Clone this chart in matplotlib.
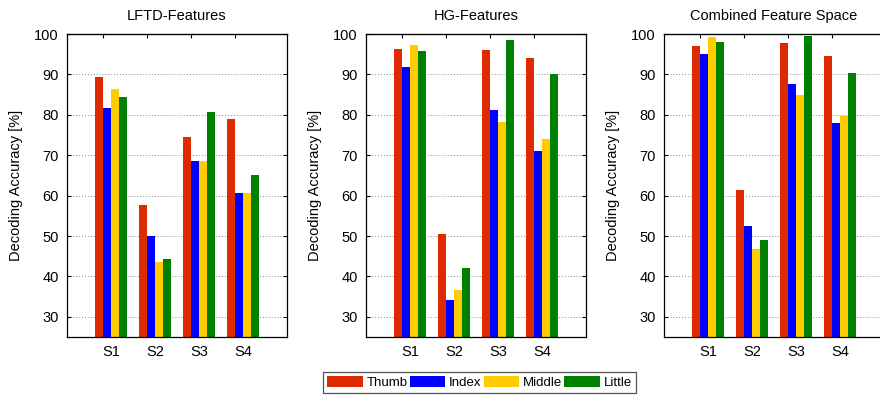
import numpy as np
import matplotlib.pyplot as plt

plt.rcParams["font.family"] = ["Liberation Sans", "DejaVu Sans"]

subjects = ['S1', 'S2', 'S3', 'S4']
fingers = ['Thumb', 'Index', 'Middle', 'Little']
colors = ['#dd2a00', '#0000ff', '#ffcc00', '#008000']
titles = ['LFTD-Features', 'HG-Features', 'Combined Feature Space']

# rows = subjects, columns = fingers
lftd = [[89.3, 81.6, 86.4, 84.3],
        [57.6, 50.1, 43.5, 44.3],
        [74.6, 68.6, 68.5, 80.6],
        [78.9, 60.7, 60.7, 65.2]]
hg = [[96.4, 91.9, 97.3, 95.7],
      [50.5, 34.1, 36.7, 42.0],
      [96.0, 81.3, 78.1, 98.5],
      [94.0, 71.0, 74.0, 90.1]]
combined = [[97.1, 95.0, 99.2, 97.9],
            [61.4, 52.5, 46.7, 49.1],
            [97.8, 87.6, 85.0, 99.5],
            [94.5, 77.9, 79.8, 90.3]]

fig = plt.figure(figsize=(8.8, 4.0), dpi=100)
lefts = [67 / 880, 366 / 880, 664 / 880]
x = np.arange(1, len(subjects) + 1)
w = 0.18

for k, data in enumerate([lftd, hg, combined]):
    ax = fig.add_axes([lefts[k], 63 / 400, 220 / 880, 303 / 400])
    vals = np.array(data)
    for j, name in enumerate(fingers):
        ax.bar(x + (j - 1.5) * w, vals[:, j], w, color=colors[j],
               label=name, zorder=2, linewidth=0)
    ax.set_xlim(0, 5)
    ax.set_ylim(25, 100)
    ax.set_yticks(range(30, 101, 10))
    ax.set_xticks(x)
    ax.set_xticklabels(subjects, fontsize=10.5)
    ax.tick_params(axis='y', labelsize=10.5, direction='in', length=3,
                   right=True, pad=6, width=0.8)
    ax.tick_params(axis='x', length=0, pad=6)
    top = ax.secondary_xaxis('top')
    top.set_xticks(x - w)
    top.set_xticklabels([])
    top.tick_params(direction='in', length=3, width=0.8)
    ax.grid(axis='y', linestyle=(0, (1, 2)), color='#8a8a8a', linewidth=0.7, zorder=1)
    ax.set_ylabel('Decoding Accuracy [%]', fontsize=10.5, labelpad=8)
    ax.set_title(titles[k], fontsize=10.5, pad=10)
    for s in ax.spines.values():
        s.set_linewidth(0.9)
    if k == 0:
        handles, labels = ax.get_legend_handles_labels()

leg = fig.legend(handles, labels, loc='lower center', ncol=4,
                 bbox_to_anchor=(0.545, 0.0), fontsize=9.5,
                 handlelength=2.7, handleheight=0.9, handletextpad=0.3,
                 columnspacing=0.15, borderpad=0.3, fancybox=False,
                 edgecolor='#555555', framealpha=1)
leg.get_frame().set_linewidth(0.9)

fig.savefig('out.png', dpi=100)
